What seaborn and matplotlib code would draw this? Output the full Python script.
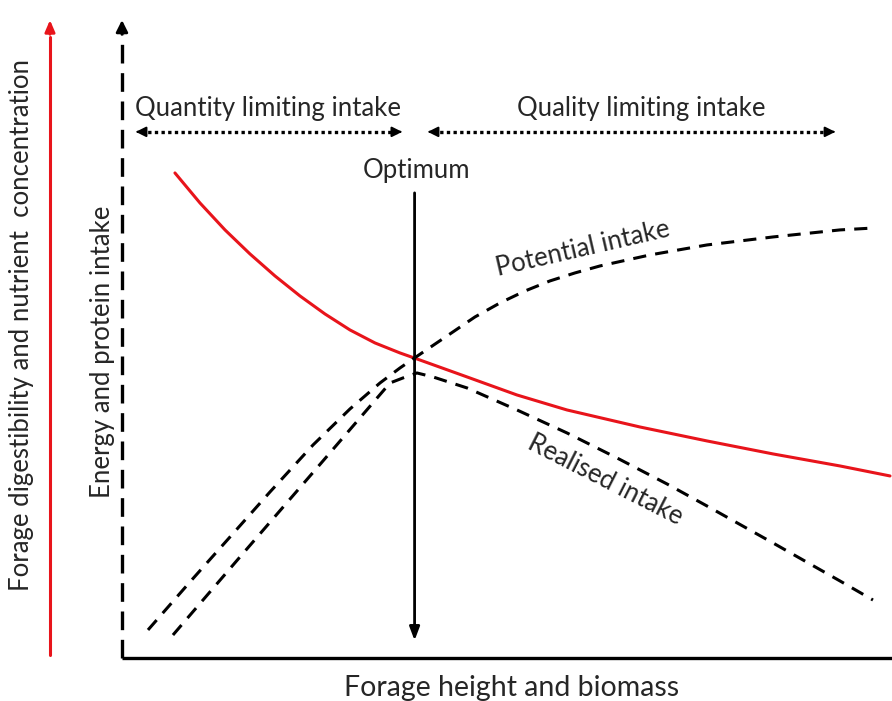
import matplotlib
matplotlib.use("Agg")
import matplotlib.pyplot as plt
import seaborn as sns
import pandas as pd

sns.set_style("white")
plt.rcParams['font.family'] = ['Lato', 'DejaVu Sans']

# Data in diagram units: x = forage height (0..100), y = intake / concentration (0..100)
# Red curve: forage digestibility & nutrient concentration
red_x = [6.88, 10.13, 13.38, 16.62, 19.87, 23.12, 26.36, 29.61, 32.86, 36.10, 38.31,
         44.81, 51.30, 57.79, 67.27, 75.97, 84.55, 93.25, 99.74]
red_y = [75.78, 71.09, 66.88, 63.13, 59.69, 56.56, 53.75, 51.25, 49.22, 47.66, 46.72,
         43.91, 41.09, 38.75, 36.09, 33.91, 31.88, 30.00, 28.44]
# Potential intake (dashed)
pot_x = [3.38, 8.83, 14.03, 19.22, 24.81, 29.61, 33.51, 36.10, 38.18, 42.60, 45.84,
         49.09, 52.34, 55.58, 58.83, 62.08, 68.57, 75.97, 84.55, 93.25, 97.79]
pot_y = [4.38, 11.88, 18.91, 25.94, 33.28, 38.91, 42.97, 45.31, 47.03, 50.63, 53.28,
         55.47, 57.34, 58.91, 60.16, 61.25, 62.97, 64.53, 65.78, 66.88, 67.19]
# Realised intake (dashed)
real_x = [6.62, 15.32, 26.10, 34.81, 36.49, 38.31, 40.39, 44.81, 51.30, 57.79, 64.29,
          70.78, 75.97, 84.55, 93.25, 97.53]
real_y = [3.59, 15.78, 30.78, 42.97, 43.75, 44.53, 43.91, 42.19, 38.75, 35.16, 31.25,
          27.19, 23.75, 17.97, 12.03, 9.06]

# Optimum position
opt_x = 38.0
opt_top, opt_bottom = 73.1, 2.3

df_red = pd.DataFrame({"x": red_x, "y": red_y})
df_pot = pd.DataFrame({"x": pot_x, "y": pot_y})
df_real = pd.DataFrame({"x": real_x, "y": real_y})

fig = plt.figure(figsize=(8.92, 7.01), dpi=100)
ax = fig.add_axes([0, 0, 1, 1])
ax.set_xlim(-15.84, 100)
ax.set_ylim(-6.72, 102.8)
ax.axis("off")

dash = (0, (4.3, 3.0))
sns.lineplot(data=df_red, x="x", y="y", sort=False, color="#e8141b", lw=2.2, ax=ax)
sns.lineplot(data=df_pot, x="x", y="y", sort=False, color="black", lw=2.2, ax=ax, linestyle=dash)
sns.lineplot(data=df_real, x="x", y="y", sort=False, color="black", lw=2.2, ax=ax, linestyle=dash)

# Axes: bottom solid, left dashed with arrow
ax.plot([0, 100], [0, 0], color="black", lw=2.4, solid_capstyle="butt")
ax.plot([0, 0], [0, 97.5], color="black", lw=2.4, linestyle=(0, (5.6, 2.9)))
ax.annotate("", xy=(0, 100.1), xytext=(0, 97.0),
            arrowprops=dict(arrowstyle="-|>,head_width=0.35,head_length=0.7", color="black", lw=2))

# Red arrow on the left
ax.plot([-9.35, -9.35], [0.5, 97.0], color="#e8141b", lw=2.2)
ax.annotate("", xy=(-9.35, 100.1), xytext=(-9.35, 97.0),
            arrowprops=dict(arrowstyle="-|>,head_width=0.3,head_length=0.7", color="#e8141b", lw=2))

# Optimum line with arrow
ax.annotate("", xy=(opt_x, opt_bottom), xytext=(opt_x, opt_top),
            arrowprops=dict(arrowstyle="-|>,head_width=0.3,head_length=0.8", color="black", lw=2.0))
ax.text(opt_x + 0.3, 74.2, "Optimum", ha="center", va="bottom", fontsize=18.5)

# Dotted double arrows
def dbl_arrow(x0, x1, y):
    ax.plot([x0 + 1.0, x1 - 1.0], [y, y], color="black", lw=2.4, linestyle=(0, (1, 1.0)))
    for a, b in [(x0, x0 + 1.2), (x1, x1 - 1.2)]:
        ax.annotate("", xy=(a, y), xytext=(b, y),
                    arrowprops=dict(arrowstyle="-|>,head_width=0.3,head_length=0.6", color="black", lw=1.5))

y_arr = 82.2
dbl_arrow(1.43, 36.75, y_arr)
dbl_arrow(39.35, 93.0, y_arr)
ax.text(19.0, 85.9, "Quantity limiting intake", ha="center", va="center", fontsize=18.5)
ax.text(67.4, 85.9, "Quality limiting intake", ha="center", va="center", fontsize=18.5)

# Curve labels
ax.text(59.9, 63.9, "Potential intake", ha="center", va="center", fontsize=18.5, rotation=13)
ax.text(62.7, 27.8, "Realised intake", ha="center", va="center", fontsize=18.5, rotation=-27)

# Axis labels
ax.text(50.65, -4.7, "Forage height and biomass", ha="center", va="center", fontsize=20.5)
ax.text(-2.47, 47.8, "Energy and protein intake", ha="center", va="center", fontsize=18.5, rotation=90)
ax.text(-13.0, 52.0, "Forage digestibility and nutrient  concentration", ha="center", va="center",
        fontsize=18.5, rotation=90)

fig.savefig("out.png", dpi=100)
